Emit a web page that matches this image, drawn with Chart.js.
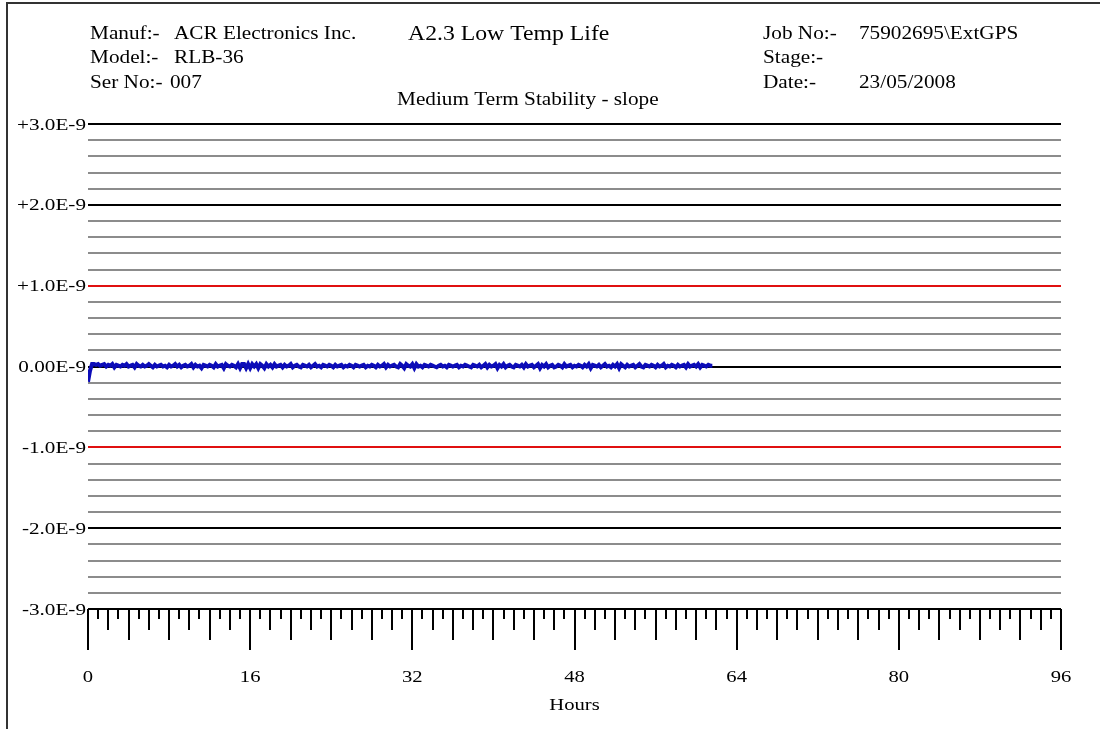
<!DOCTYPE html>
<html>
<head>
<meta charset="utf-8">
<title>A2.3 Low Temp Life - Medium Term Stability</title>
<script src="https://cdn.jsdelivr.net/npm/chart.js@4.4.1/dist/chart.umd.min.js"></script>
<style>
    html, body { margin: 0; padding: 0; background: #ffffff; }
    canvas { display: block; }
</style>
</head>
<body>
<canvas id="slopeChart" width="1100" height="729"></canvas>
<script>
// slope readings, in units of 1E-9, logged every 0.2 hours
const sampleStepHours = 0.2;
const slopeValues = [
    -0.19, -0.05, 0.03, 0.03, 0.02, 0.03, 0.01, 0.02, 0.03, 0.00, 0.02, 0.01, 0.03, -0.01, 0.02, 0.01, 0.00, 0.02, 0.01, 0.03,
    0.00, 0.01, 0.02, -0.01, 0.03, 0.01, 0.00, 0.02, 0.00, 0.01, 0.03, 0.01, -0.01, 0.02, 0.00, 0.01, 0.02, 0.00, 0.01, -0.01,
    0.02, 0.00, 0.01, 0.03, 0.00, 0.02, -0.01, 0.01, 0.02, 0.00, 0.01, 0.03, -0.01, 0.02, 0.00, 0.01, -0.02, 0.02, 0.01, 0.00,
    0.02, 0.01, -0.01, 0.03, 0.00, 0.01, 0.02, -0.02, 0.03, 0.01, 0.00, 0.02, 0.01, -0.01, 0.03, -0.02, 0.03, 0.03, -0.02, 0.03,
    -0.02, 0.03, 0.00, 0.03, -0.02, 0.03, 0.01, -0.02, 0.03, 0.00, 0.02, -0.01, 0.03, 0.00, 0.01, 0.02, -0.01, 0.02, 0.00, 0.01,
    0.03, -0.01, 0.01, 0.02, 0.00, -0.01, 0.02, 0.01, 0.00, 0.02, -0.01, 0.01, 0.03, 0.00, 0.01, -0.01, 0.02, 0.01, 0.00, 0.02,
    0.01, -0.01, 0.02, 0.00, 0.01, 0.02, -0.01, 0.01, 0.00, 0.02, 0.01, -0.01, 0.02, 0.01, 0.00, 0.01, 0.02, -0.01, 0.01, 0.00,
    0.02, 0.01, -0.01, 0.02, 0.00, 0.01, 0.03, -0.01, 0.02, 0.00, 0.01, 0.02, 0.00, -0.01, 0.03, 0.01, -0.02, 0.03, 0.01, 0.00,
    0.03, -0.02, 0.03, 0.00, 0.01, -0.01, 0.02, 0.01, 0.00, 0.02, 0.01, 0.00, -0.01, 0.01, 0.02, 0.00, 0.01, -0.01, 0.02, 0.01,
    0.00, 0.01, 0.02, -0.01, 0.01, 0.00, 0.02, 0.01, 0.00, -0.01, 0.02, 0.01, 0.00, 0.02, -0.01, 0.01, 0.03, -0.01, 0.02, 0.00,
    0.01, 0.03, -0.02, 0.02, 0.00, 0.03, -0.01, 0.01, 0.02, 0.00, -0.01, 0.02, 0.01, 0.00, 0.02, -0.01, 0.03, 0.00, 0.01, 0.02,
    -0.01, 0.01, 0.03, -0.02, 0.02, 0.00, 0.03, -0.01, 0.01, 0.02, -0.01, 0.00, 0.02, 0.01, -0.01, 0.03, 0.00, 0.01, 0.02, -0.01,
    0.01, 0.00, 0.02, 0.01, -0.01, 0.02, 0.00, 0.03, -0.02, 0.02, 0.01, 0.00, 0.02, -0.01, 0.01, 0.03, 0.00, 0.01, -0.01, 0.02,
    0.00, 0.03, -0.02, 0.03, 0.01, -0.01, 0.02, 0.00, 0.01, 0.02, -0.01, 0.01, 0.03, 0.00, -0.01, 0.02, 0.01, 0.00, 0.02, 0.01,
    -0.01, 0.02, 0.00, 0.01, 0.03, -0.01, 0.01, 0.00, 0.02, 0.01, -0.01, 0.02, 0.00, 0.01, 0.02, -0.01, 0.03, 0.00, 0.01, 0.02,
    0.00, 0.03, -0.01, 0.02, 0.01, 0.00, 0.02, 0.01, 0.01
];

const yTickValues = [3, 2, 1, 0, -1, -2, -3];
const yTickLabels = ['+3.0E-9', '+2.0E-9', '+1.0E-9', '0.00E-9', '-1.0E-9', '-2.0E-9', '-3.0E-9'];
const limitLines = [1, -1];

const xLabelHours = [0, 16, 32, 48, 64, 80, 96];
const xAxisTitle = 'Hours';

const headerLeft = [
    ['Manuf:-', 'ACR Electronics Inc.'],
    ['Model:-', 'RLB-36'],
    ['Ser No:-', '007']
];
const headerRight = [
    ['Job No:-', '75902695\\ExtGPS'],
    ['Stage:-', ''],
    ['Date:-', '23/05/2008']
];
const testTitle = 'A2.3 Low Temp Life';
const chartTitle = 'Medium Term Stability - slope';

const serif = '"Liberation Serif", "Times New Roman", serif';

const points = slopeValues.map((v, i) => ({ x: i * sampleStepHours, y: v }));

function isWhole(v) {
    return Math.abs(v - Math.round(v)) < 1e-6;
}

// the report printer widens its type a little
function wideText(ctx, text, x, y, align, stretch) {
    ctx.save();
    ctx.translate(x, y);
    ctx.scale(stretch || 1.2, 1);
    ctx.textAlign = align || 'left';
    ctx.fillText(text, 0, 0);
    ctx.restore();
}

const pagePlugin = {
    id: 'pagePlugin',
    beforeDraw(chart) {
        const ctx = chart.ctx;
        ctx.save();
        ctx.fillStyle = '#ffffff';
        ctx.fillRect(0, 0, chart.width, chart.height);
        ctx.restore();
    },
    afterDraw(chart) {
        const ctx = chart.ctx;
        const x = chart.scales.x;
        const y = chart.scales.y;
        const area = chart.chartArea;
        ctx.save();

        // page frame
        ctx.strokeStyle = '#333333';
        ctx.lineWidth = 2;
        ctx.beginPath();
        ctx.moveTo(7, 729);
        ctx.lineTo(7, 3);
        ctx.lineTo(1100, 3);
        ctx.stroke();

        // header block
        ctx.fillStyle = '#000000';
        ctx.textBaseline = 'alphabetic';
        ctx.font = '18px ' + serif;
        const rowBase = [39, 63, 88];
        headerLeft.forEach((row, i) => {
            wideText(ctx, row[0], 90, rowBase[i], 'left', 1.18);
            wideText(ctx, row[1], i === 2 ? 170 : 174, rowBase[i], 'left', 1.18);
        });
        headerRight.forEach((row, i) => {
            wideText(ctx, row[0], 763, rowBase[i], 'left', 1.18);
            wideText(ctx, row[1], 859, rowBase[i], 'left', 1.18);
        });
        ctx.font = '21px ' + serif;
        wideText(ctx, testTitle, 408, 40, 'left', 1.13);
        ctx.font = '18px ' + serif;
        wideText(ctx, chartTitle, 397, 105, 'left', 1.18);

        // value labels at the whole-number grid lines
        ctx.font = '17.5px ' + serif;
        ctx.textBaseline = 'middle';
        yTickValues.forEach((v, i) => {
            wideText(ctx, yTickLabels[i], area.left - 2, y.getPixelForValue(v) + 1, 'right', 1.21);
        });

        // hour ticks below the plot
        ctx.strokeStyle = '#000000';
        ctx.lineWidth = 2;
        ctx.beginPath();
        for (let h = 0; h <= 96; h++) {
            const px = Math.round(x.getPixelForValue(h));
            let len = 10;
            if (h % 16 === 0) len = 41;
            else if (h % 4 === 0) len = 31;
            else if (h % 2 === 0) len = 21;
            ctx.moveTo(px, area.bottom);
            ctx.lineTo(px, area.bottom + len);
        }
        ctx.stroke();

        ctx.textBaseline = 'alphabetic';
        xLabelHours.forEach(h => {
            wideText(ctx, String(h), x.getPixelForValue(h), 682, 'center', 1.18);
        });
        wideText(ctx, xAxisTitle, (area.left + area.right) / 2, 710, 'center', 1.18);
        ctx.restore();
    }
};

const chart = new Chart(document.getElementById('slopeChart').getContext('2d'), {
    type: 'line',
    data: {
        datasets: [{
            label: 'slope',
            data: points,
            borderColor: '#0c0cb8',
            borderWidth: 4,
            pointRadius: 0,
            tension: 0,
            fill: false
        }]
    },
    options: {
        responsive: false,
        animation: false,
        layout: {
            padding: { left: 0, top: 124, right: 39, bottom: 120 }
        },
        plugins: {
            legend: { display: false },
            tooltip: { enabled: false }
        },
        scales: {
            x: {
                type: 'linear',
                min: 0,
                max: 96,
                display: false
            },
            y: {
                min: -3,
                max: 3,
                afterFit(scale) { scale.width = 88; },
                border: { display: false },
                ticks: {
                    stepSize: 0.2,
                    autoSkip: false,
                    display: false
                },
                grid: {
                    drawTicks: false,
                    lineWidth: 2,
                    color(c) {
                        const v = c.tick.value;
                        if (limitLines.some(l => Math.abs(v - l) < 1e-6)) return '#e01010';
                        if (isWhole(v)) return '#000000';
                        return '#8c8c8c';
                    }
                }
            }
        }
    },
    plugins: [pagePlugin]
});
</script>
</body>
</html>
